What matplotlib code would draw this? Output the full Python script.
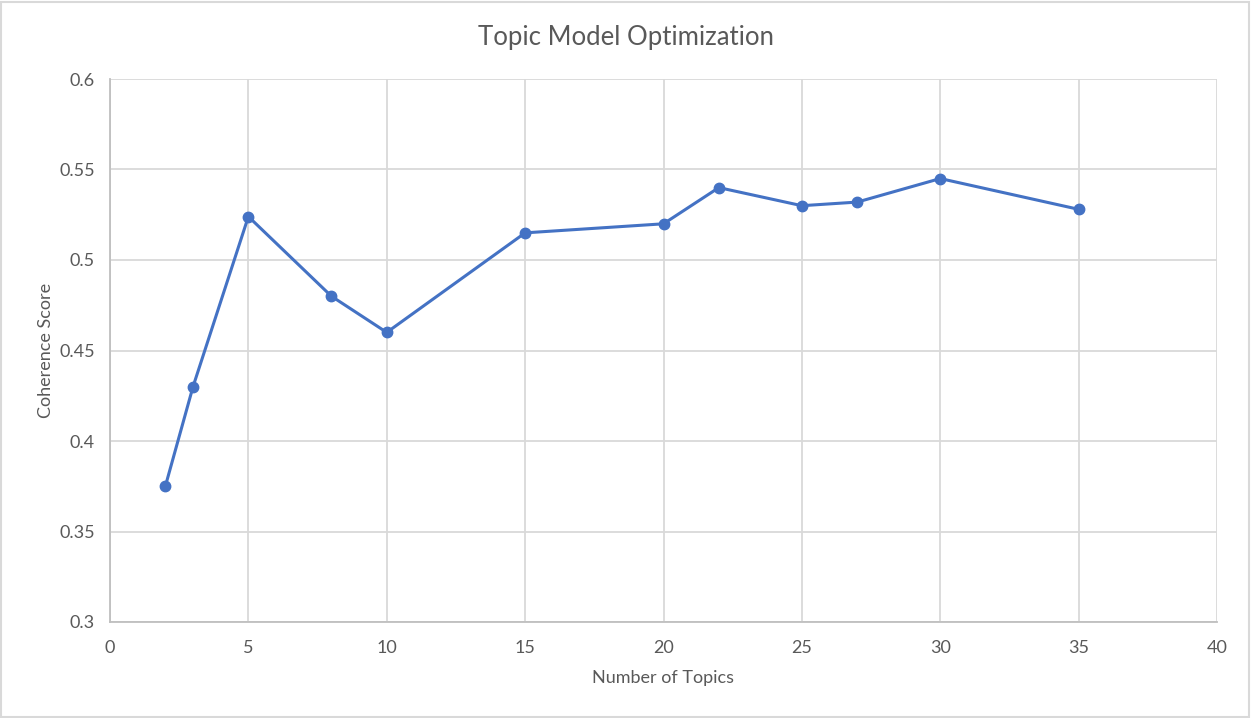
import matplotlib
matplotlib.use('Agg')
import matplotlib.pyplot as plt
from matplotlib.patches import Rectangle

# data
num_topics = [2, 3, 5, 8, 10, 15, 20, 22, 25, 27, 30, 35]
coherence = [0.375, 0.43, 0.524, 0.48, 0.46, 0.515, 0.52, 0.54, 0.53, 0.532, 0.545, 0.528]

x_ticks = [0, 5, 10, 15, 20, 25, 30, 35, 40]
y_ticks = [0.3, 0.35, 0.4, 0.45, 0.5, 0.55, 0.6]
y_labels = ['0.3', '0.35', '0.4', '0.45', '0.5', '0.55', '0.6']

text_col = '#595959'
grid_col = '#D9D9D9'
line_col = '#4472C4'

plt.rcParams['font.family'] = ['Lato', 'DejaVu Sans']

fig = plt.figure(figsize=(12.52, 7.18), dpi=100)
ax = fig.add_axes([110 / 1252, 1 - 622 / 718, (1217 - 110) / 1252, (622 - 79) / 718])

ax.plot(num_topics, coherence, color=line_col, linewidth=2.2, marker='o',
        markersize=7.5, zorder=3, clip_on=False)

ax.set_xlim(0, 40)
ax.set_ylim(0.3, 0.6)
ax.set_xticks(x_ticks)
ax.set_yticks(y_ticks)
ax.set_yticklabels(y_labels)
ax.grid(True, color=grid_col, linewidth=1.3)
ax.set_axisbelow(True)
ax.tick_params(axis='both', length=0, colors=text_col, labelsize=13)
ax.tick_params(axis='x', pad=13)
ax.tick_params(axis='y', pad=11)

for side in ['top', 'right']:
    ax.spines[side].set_visible(False)
for side in ['left', 'bottom']:
    ax.spines[side].set_color('#BFBFBF')
    ax.spines[side].set_linewidth(1.3)

ax.set_xlabel('Number of Topics', color=text_col, fontsize=13, labelpad=10)
ax.set_ylabel('Coherence Score', color=text_col, fontsize=13, labelpad=4)
fig.text(0.5, 1 - 37 / 718, 'Topic Model Optimization', ha='center', va='center',
         color=text_col, fontsize=18.5)

# light chart-area frame
fig.patches.append(Rectangle((0.001, 0.002), 0.997, 0.995, transform=fig.transFigure,
                             fill=False, edgecolor='#D9D9D9', linewidth=1.5))

fig.savefig('out.png', dpi=100)
